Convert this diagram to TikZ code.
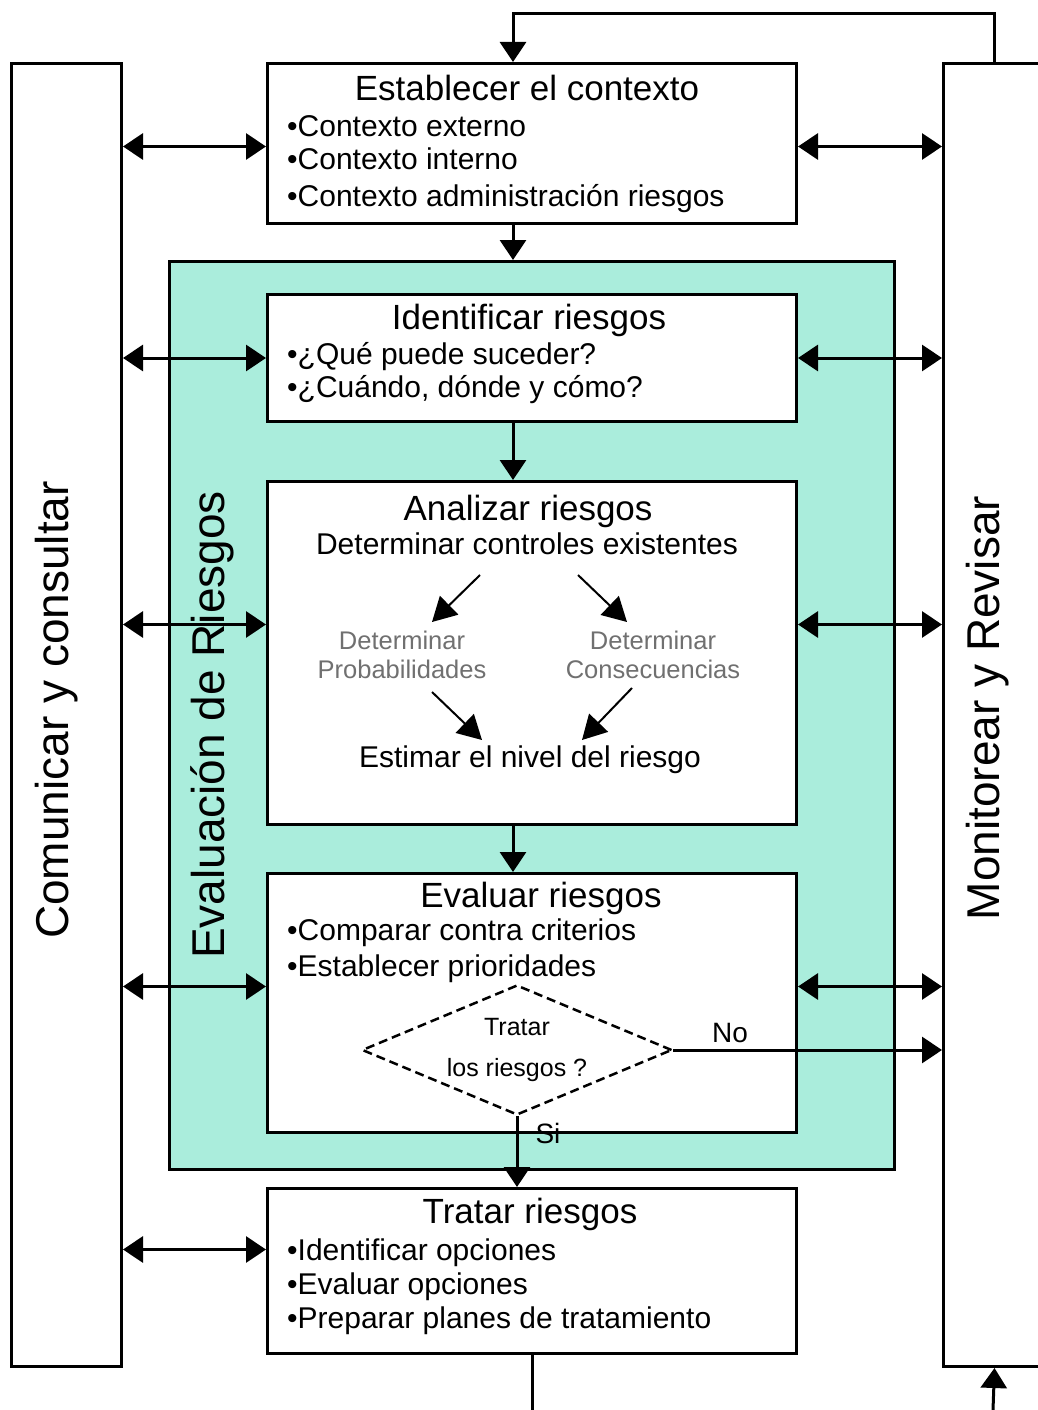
\documentclass[tikz,border=0pt]{standalone}
\usepackage{fontspec}
\setmainfont{Liberation Sans}
\usetikzlibrary{arrows.meta,shapes.geometric}

\definecolor{evalgreen}{RGB}{170,237,220}
\definecolor{softgray}{RGB}{112,112,112}
\newcommand{\setfs}[1]{\fontsize{#1}{#1}\selectfont}

\tikzset{
  panel/.style={draw, line width=3pt, anchor=north west, inner sep=0pt},
  head/.style={font=\setfs{35}},
  item/.style={font=\setfs{30}, anchor=west, inner sep=0pt},
  side/.style={font=\setfs{46}, rotate=90},
  link/.style={line width=3pt, >={Triangle[length=20pt,width=26pt]}},
  thin link/.style={line width=2pt, ->, >={Triangle[length=24pt,width=26pt]}},
}

\begin{document}
\begin{tikzpicture}[x=1pt,y=-1pt]
  \useasboundingbox (0,0) rectangle (1038,1410);

  % outer columns: communicate / monitor
  \node[panel, minimum width=110pt, minimum height=1303pt] (comm) at (10,62) {};
  \node[panel, minimum width=102pt, minimum height=1303pt] (mon) at (942,62) {};
  \node[side] (commlabel) at (57,710) {Comunicar y consultar};
  \node[side] (monlabel) at (988,708) {Monitorear y Revisar};

  % risk assessment block
  \node[panel, fill=evalgreen, minimum width=725pt, minimum height=908pt] (green) at (168,260) {};
  \node[side] (greenlabel) at (212,725) {Evaluación de Riesgos};

  % process boxes
  \node[panel, fill=white, minimum width=529pt, minimum height=160pt] (ctx) at (266,62) {};
  \node[panel, fill=white, minimum width=529pt, minimum height=127pt] (ident) at (266,293) {};
  \node[panel, fill=white, minimum width=529pt, minimum height=343pt] (anal) at (266,480) {};
  \node[panel, fill=white, minimum width=529pt, minimum height=259pt] (evalr) at (266,872) {};
  \node[panel, fill=white, minimum width=529pt, minimum height=165pt] (trat) at (266,1187) {};
  \coordinate (spine) at (513,0);

  % texts: context
  \node[head] (ctxhead) at (527,88) {Establecer el contexto};
  \node[item] (ctx1) at (287,126) {•Contexto externo};
  \node[item] (ctx2) at (287,159) {•Contexto interno};
  \node[item] (ctx3) at (287,199) {•Contexto administración riesgos};

  % texts: identify
  \node[head] (identhead) at (529,320) {Identificar riesgos};
  \node[item] (ident1) at (287,357) {•¿Qué puede suceder?};
  \node[item] (ident2) at (287,390) {•¿Cuándo, dónde y cómo?};

  % texts: analyse
  \node[head] (analhead) at (528,511) {Analizar riesgos};
  \node[font=\setfs{30}] (ctrl) at (527,544) {Determinar controles existentes};
  \node[font=\setfs{25.5}, text=softgray, align=center] (prob) at (402,655) {Determinar\\[4pt]Probabilidades};
  \node[font=\setfs{25.5}, text=softgray, align=center] (cons) at (653,655) {Determinar\\[4pt]Consecuencias};
  \node[font=\setfs{30}] (est) at (530,760) {Estimar el nivel del riesgo};
  \coordinate (p1) at (480,575); \coordinate (p2) at (432,622);
  \coordinate (c1) at (578,575); \coordinate (c2) at (627,622);
  \coordinate (p3) at (432,692); \coordinate (p4) at (482,740);
  \coordinate (c3) at (632,688); \coordinate (c4) at (582,740);
  \draw[thin link] (p1) -- (p2);
  \draw[thin link] (c1) -- (c2);
  \draw[thin link] (p3) -- (p4);
  \draw[thin link] (c3) -- (c4);

  % texts: evaluate
  \node[head] (evalhead) at (541,898) {Evaluar riesgos};
  \node[item] (eval1) at (287,933) {•Comparar contra criterios};
  \node[item] (eval2) at (287,969) {•Establecer prioridades};
  \node[draw, dashed, dash pattern=on 9pt off 5pt, line width=2.5pt, shape=diamond,
        aspect=2.38, minimum width=310pt, minimum height=130pt, inner sep=0pt,
        font=\setfs{25}, align=center] (dec) at (517,1050) {Tratar\\[16pt]los riesgos ?};
  \node[font=\setfs{28}] (no) at (730,1033) {No};
  \node[font=\setfs{28}] (si) at (548,1133) {Si};

  % texts: treat
  \node[head] (trathead) at (530,1214) {Tratar riesgos};
  \node[item] (trat1) at (287,1253) {•Identificar opciones};
  \node[item] (trat2) at (287,1287) {•Evaluar opciones};
  \node[item] (trat3) at (287,1321) {•Preparar planes de tratamiento};

  % main flow
  \draw[link,->] (ctx.south -| spine) -- (green.north -| spine);
  \draw[link,->] (ident.south -| spine) -- (anal.north -| spine);
  \draw[link,->] (anal.south -| spine) -- (evalr.north -| spine);
  \draw[link,->] (dec.south) -- (dec.south |- trat.north);
  \draw[link,->] (dec.east) -- (dec.east -| mon.west);
  \coordinate (tratout) at (530,1410);
  \draw[link] (trat.south) -- (trat.south |- tratout);

  % feedback loop
  \draw[link,->] (mon.north) -- ++(0,-48) -| (ctx.north -| spine);
  \coordinate (monin) at (993,1410);
  \draw[link,->] (monin) -- (mon.south);

  % communication on the left
  \foreach \b/\dy in {ctx/-3, ident/0, anal/28.5, evalr/16.5, trat/21.5}
    \draw[link,<->] ([yshift=\dy pt]\b.west -| comm.east) -- ([yshift=\dy pt]\b.west);

  % monitoring on the right
  \foreach \b/\dy in {ctx/-3, ident/0, anal/28.5, evalr/16.5}
    \draw[link,<->] ([yshift=\dy pt]\b.east) -- ([yshift=\dy pt]\b.east -| mon.west);
\end{tikzpicture}
\end{document}
